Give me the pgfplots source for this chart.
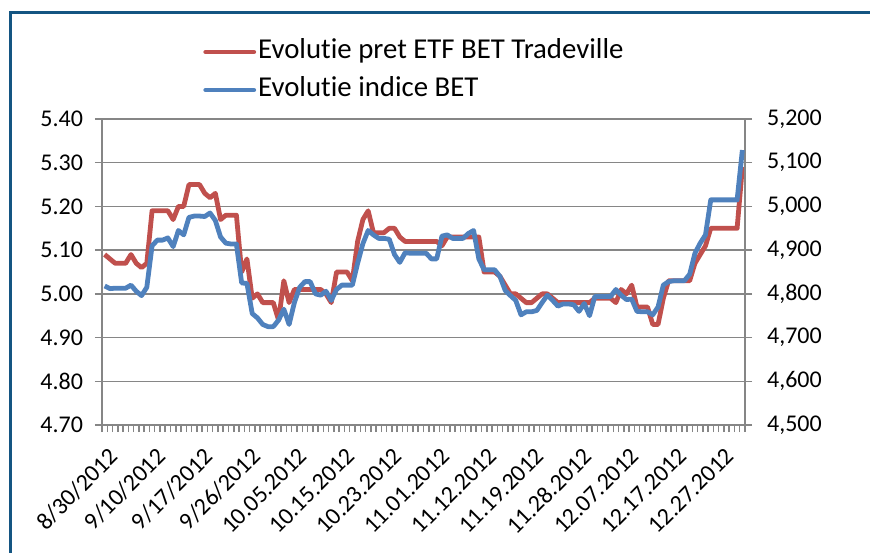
\documentclass[border=0pt]{standalone}
\usepackage{pgfplots}
\usepackage{pgfplotstable}
\usepackage{fontspec}
\setmainfont[Ligatures=NoCommon]{Carlito}
\pgfplotsset{compat=1.18}
\definecolor{redline}{RGB}{192,80,77}
\definecolor{blueline}{RGB}{79,129,189}
\definecolor{framecol}{RGB}{20,85,130}
\definecolor{gridcol}{RGB}{134,134,134}
\pgfplotstableread{
i etf bet
0 5.09 4818
1 5.08 4812
2 5.07 4813
3 5.07 4813
4 5.07 4813
5 5.09 4820
6 5.07 4806
7 5.06 4796
8 5.07 4815
9 5.19 4910
10 5.19 4923
11 5.19 4923
12 5.19 4928
13 5.17 4908
14 5.20 4945
15 5.20 4935
16 5.25 4975
17 5.25 4978
18 5.25 4978
19 5.23 4977
20 5.22 4985
21 5.23 4968
22 5.17 4930
23 5.18 4916
24 5.18 4914
25 5.18 4914
26 5.05 4825
27 5.08 4824
28 4.99 4755
29 5.00 4745
30 4.98 4730
31 4.98 4725
32 4.98 4725
33 4.94 4740
34 5.03 4765
35 4.98 4730
36 5.01 4780
37 5.01 4815
38 5.01 4828
39 5.01 4828
40 5.01 4800
41 5.01 4797
42 5.00 4806
43 4.98 4785
44 5.05 4810
45 5.05 4820
46 5.05 4820
47 5.03 4820
48 5.12 4870
49 5.17 4915
50 5.19 4945
51 5.14 4935
52 5.14 4927
53 5.14 4927
54 5.15 4925
55 5.15 4890
56 5.13 4872
57 5.12 4894
58 5.12 4893
59 5.12 4893
60 5.12 4893
61 5.12 4893
62 5.12 4880
63 5.12 4880
64 5.11 4932
65 5.13 4935
66 5.13 4927
67 5.13 4927
68 5.13 4927
69 5.13 4938
70 5.13 4945
71 5.13 4880
72 5.05 4855
73 5.05 4855
74 5.05 4855
75 5.04 4840
76 5.02 4808
77 5.00 4796
78 5.00 4785
79 4.99 4752
80 4.98 4759
81 4.98 4759
82 4.99 4762
83 5.00 4780
84 5.00 4797
85 4.99 4785
86 4.98 4772
87 4.98 4777
88 4.98 4777
89 4.98 4775
90 4.98 4760
91 4.98 4778
92 4.98 4750
93 4.99 4794
94 4.99 4794
95 4.99 4794
96 4.99 4794
97 4.98 4810
98 5.01 4797
99 5.00 4787
100 5.02 4788
101 4.97 4760
102 4.97 4759
103 4.97 4759
104 4.93 4752
105 4.93 4770
106 4.99 4820
107 5.03 4828
108 5.03 4830
109 5.03 4830
110 5.03 4830
111 5.03 4845
112 5.07 4893
113 5.09 4916
114 5.11 4935
115 5.15 5015
116 5.15 5015
117 5.15 5015
118 5.15 5015
119 5.15 5015
120 5.15 5015
121 5.29 5129
}\datatable
\begin{document}
\begin{tikzpicture}
\useasboundingbox (0,0) rectangle (435pt,-276pt);
\draw[framecol, line width=1.5pt] (5pt,-280pt) -- (5pt,-6.25pt) -- (440pt,-6.25pt);
\begin{axis}[
  at={(51pt,-212.5pt)}, anchor=south west,
  scale only axis, width=321.5pt, height=153pt,
  xmin=-0.5, xmax=121.5, ymin=4.7, ymax=5.4,
  axis x line*=bottom, axis y line*=left,
  axis line style={gridcol, line width=0.7pt},
  ytick={4.7,4.8,4.9,5.0,5.1,5.2,5.3,5.4},
  minor ytick={4.7,4.8,4.9,5.0,5.1,5.2,5.3,5.4},
  yticklabels={4.70,4.80,4.90,5.00,5.10,5.20,5.30,5.40},
  ymajorgrids, grid style={gridcol, line width=0.75pt},
  xtick={0,9,...,117},
  xticklabels={8/30/2012,9/10/2012,9/17/2012,9/26/2012,10.05.2012,10.15.2012,10.23.2012,11.01.2012,11.12.2012,11.19.2012,11.28.2012,12.07.2012,12.17.2012,12.27.2012},
  minor xtick={-0.5,0.5,...,121.5},
  tick align=outside, major tick length=0pt, minor tick length=3.6pt,
  tick style={gridcol, line width=0.75pt},
  ticklabel style={font=\fontsize{12}{14}\selectfont},
  yticklabel style={xshift=-6pt},
  xticklabel style={xshift=1.5pt, yshift=-9pt, rotate=45, anchor=north east, inner sep=1pt},
  legend style={draw=none, fill=none, inner sep=0pt, at={(0.157,1.157)}, anchor=west,
    font=\fontsize{14.4}{16}\selectfont, row sep=6pt,
    nodes={inner xsep=1pt, inner ysep=0pt, text height=10pt, text depth=3pt}},
  legend cell align=left,
  legend image code/.code={\draw[#1, line width=2.4pt, line cap=round] (0pt,0pt) -- (24pt,0pt);},
]
\addplot[redline, line width=2.4pt, line join=round] table[x=i, y=etf] {\datatable};
\addlegendentry{Evolutie pret ETF BET Tradeville}
\addlegendimage{blueline}
\addlegendentry{Evolutie indice BET}
\end{axis}
\begin{axis}[
  at={(51pt,-212.5pt)}, anchor=south west,
  scale only axis, width=321.5pt, height=153pt,
  xmin=-0.5, xmax=121.5, ymin=4500, ymax=5200,
  axis y line*=right, axis x line=none,
  axis line style={gridcol, line width=0.7pt},
  ytick={4500,4600,4700,4800,4900,5000,5100,5200},
  minor ytick={4500,4600,4700,4800,4900,5000,5100,5200},
  yticklabels={{4,500},{4,600},{4,700},{4,800},{4,900},{5,000},{5,100},{5,200}},
  tick align=outside, major tick length=0pt, minor tick length=3.6pt,
  tick style={gridcol, line width=0.75pt},
  ticklabel style={font=\fontsize{12}{14}\selectfont},
  yticklabel style={xshift=7.5pt},
]
\addplot[blueline, line width=2.4pt, line join=round] table[x=i, y=bet] {\datatable};
\end{axis}
\end{tikzpicture}
\end{document}
